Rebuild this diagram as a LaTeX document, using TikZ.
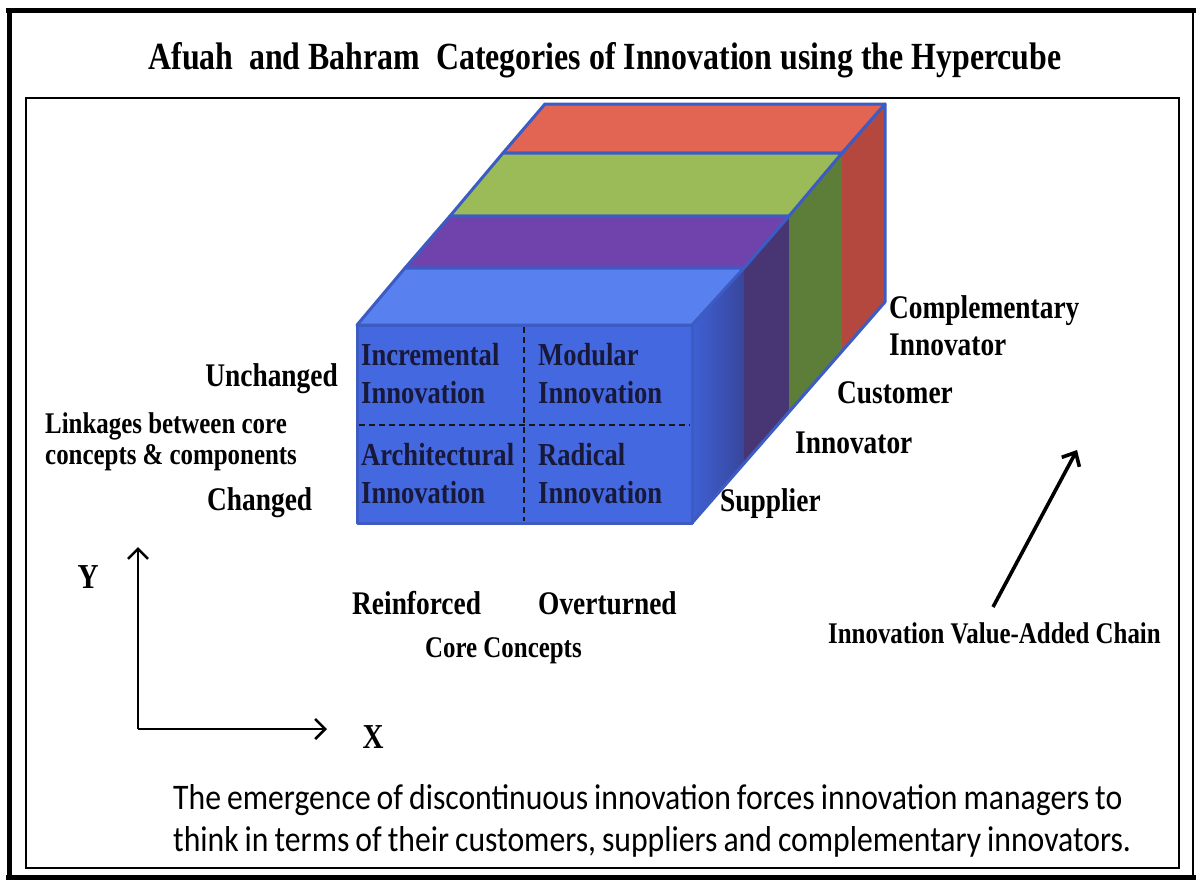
\documentclass[tikz,border=0pt]{standalone}
\usepackage{fontspec}
\setmainfont{Liberation Serif}[FakeStretch=0.83]
\newfontfamily\notefont{Carlito}[FakeStretch=0.88]
\newcommand{\notestyle}{\notefont\fontsize{36}{42}\selectfont\spaceskip=6pt plus 1pt minus 0pt\relax}
\usetikzlibrary{arrows.meta}

\definecolor{frontblue}{RGB}{68,104,224}
\definecolor{topblue}{RGB}{88,128,238}
\definecolor{sideblue}{RGB}{62,96,212}
\definecolor{sideblueD}{RGB}{56,70,156}
\definecolor{toppurple}{RGB}{112,66,172}
\definecolor{sidepurple}{RGB}{72,54,116}
\definecolor{topgreen}{RGB}{155,187,89}
\definecolor{sidegreen}{RGB}{92,126,56}
\definecolor{topred}{RGB}{226,100,82}
\definecolor{sidered}{RGB}{180,72,62}
\definecolor{cubeedge}{RGB}{60,92,196}
\definecolor{celltext}{RGB}{24,24,56}

\tikzset{
  cubeline/.style={draw=cubeedge, line width=3pt, line join=round},
  lab/.style={font=\bfseries\fontsize{33}{37}\selectfont, inner sep=0pt, align=left},
  smalllab/.style={font=\bfseries\fontsize{30}{31}\selectfont, inner sep=0pt, align=left},
  cell/.style={font=\bfseries\fontsize{32}{38}\selectfont, text=celltext, inner sep=0pt, align=left},
  axisarrow/.style={line width=2.6pt, -{Straight Barb[length=10pt,width=20pt,line width=2.6pt]}},
  chainarrow/.style={line width=3.6pt, -{Straight Barb[length=11pt,width=20pt,line width=3.6pt]}},
  divider/.style={line width=2pt, dash pattern=on 6pt off 4pt, draw=black!90}
}

\begin{document}
\begin{tikzpicture}[x=1pt,y=-1pt]
\useasboundingbox (0,0) rectangle (1196,881);
\fill[white] (0,0) rectangle (1196,881);

% page frame
\draw[line width=5pt] (9,8) -- (9,879);
\draw[line width=5pt] (6,10) -- (1196,10);
\draw[line width=5pt] (6,877) -- (1196,877);
\draw[line width=1.5pt] (1193,10) -- (1193,877);
\draw[line width=1.8pt] (26,98) rectangle (1179,868);

% title
\node[font=\bfseries\fontsize{38.4}{41}\selectfont, inner sep=0pt] (title) at (605,60)
  {Afuah\ \ and Bahram\ \ Categories of Innovation using the Hypercube};

% cube corner points
\coordinate (ftl) at (357,325);
\coordinate (ftr) at (692,325);
\coordinate (fbr) at (692,523);
\coordinate (fbl) at (357,523);
\coordinate (l1) at (405,268);  \coordinate (r1) at (744,268);  \coordinate (b1) at (744,464);
\coordinate (l2) at (450,216);  \coordinate (r2) at (789,216);  \coordinate (b2) at (789,412);
\coordinate (l3) at (503,153);  \coordinate (r3) at (842,153);  \coordinate (b3) at (842,351);
\coordinate (l4) at (545,104);  \coordinate (r4) at (885,104);  \coordinate (b4) at (885,302);

% right side strips
\shade[left color=sideblue, right color=sideblueD] (ftr) -- (r1) -- (b1) -- (fbr) -- cycle;
\fill[sidepurple] (r1) -- (r2) -- (b2) -- (b1) -- cycle;
\fill[sidegreen] (r2) -- (r3) -- (b3) -- (b2) -- cycle;
\fill[sidered] (r3) -- (r4) -- (b4) -- (b3) -- cycle;
\draw[cubeline] (ftr) -- (r4) -- (b4) -- (fbr);

% top slabs
\filldraw[cubeline, fill=topred] (l3) -- (r3) -- (r4) -- (l4) -- cycle;
\filldraw[cubeline, fill=topgreen] (l2) -- (r2) -- (r3) -- (l3) -- cycle;
\filldraw[cubeline, fill=toppurple] (l1) -- (r1) -- (r2) -- (l2) -- cycle;
\filldraw[cubeline, fill=topblue] (ftl) -- (ftr) -- (r1) -- (l1) -- cycle;

% front face
\filldraw[cubeline, fill=frontblue] (ftl) rectangle (fbr);
\coordinate (vtop) at (524,327);
\coordinate (vbot) at (524,521);
\coordinate (hleft) at (359,425);
\coordinate (hright) at (690,425);
\draw[divider] (vtop) -- (vbot);
\draw[divider] (hleft) -- (hright);

% quadrant labels
\node[cell, anchor=west] (incr) at (361,374) {Incremental\\Innovation};
\node[cell, anchor=west] (modu) at (538,374) {Modular\\Innovation};
\node[cell, anchor=west] (arch) at (361,474) {Architectural\\Innovation};
\node[cell, anchor=west] (radi) at (538,474) {Radical\\Innovation};

% value chain stages
\node[lab, anchor=west] (compl) at (889,326) {Complementary\\Innovator};
\node[lab, anchor=west] (cust) at (837,393) {Customer};
\node[lab, anchor=west] (innov) at (795,443) {Innovator};
\node[lab, anchor=west] (supp) at (720,504) {Supplier};

% vertical dimension
\node[lab, anchor=east] (unch) at (338,379) {Unchanged};
\node[smalllab, anchor=west] (link) at (45,442) {Linkages between core\\concepts \& components};
\node[lab, anchor=west] (chg) at (207,503) {Changed};

% horizontal dimension
\node[lab, anchor=west] (reinf) at (352,603) {Reinforced};
\node[lab, anchor=west] (overt) at (538,603) {Overturned};
\node[smalllab, anchor=west] (core) at (425,651) {Core Concepts};

% axes
\coordinate (origin) at (138,729);
\coordinate (ytip) at (138,547);
\coordinate (xtip) at (327,729);
\draw[axisarrow] (origin) -- (ytip);
\draw[axisarrow] (origin) -- (xtip);
\node[font=\bfseries\fontsize{35}{38}\selectfont, inner sep=0pt] (ylab) at (88,577) {Y};
\node[font=\bfseries\fontsize{35}{38}\selectfont, inner sep=0pt] (xlab) at (373,737) {X};

% value chain arrow
\coordinate (chaintail) at (993,607);
\coordinate (chaintip) at (1077,450);
\draw[chainarrow] (chaintail) -- (chaintip);
\node[smalllab, anchor=west] (chain) at (828,633) {Innovation Value-Added Chain};

% closing remark
\node[font=\notestyle, inner sep=0pt, align=left, anchor=west] (note) at (173,821)
  {The emergence of discontinuous innovation forces innovation managers to\\
   think in terms of their customers, suppliers and complementary innovators.};
\end{tikzpicture}
\end{document}
